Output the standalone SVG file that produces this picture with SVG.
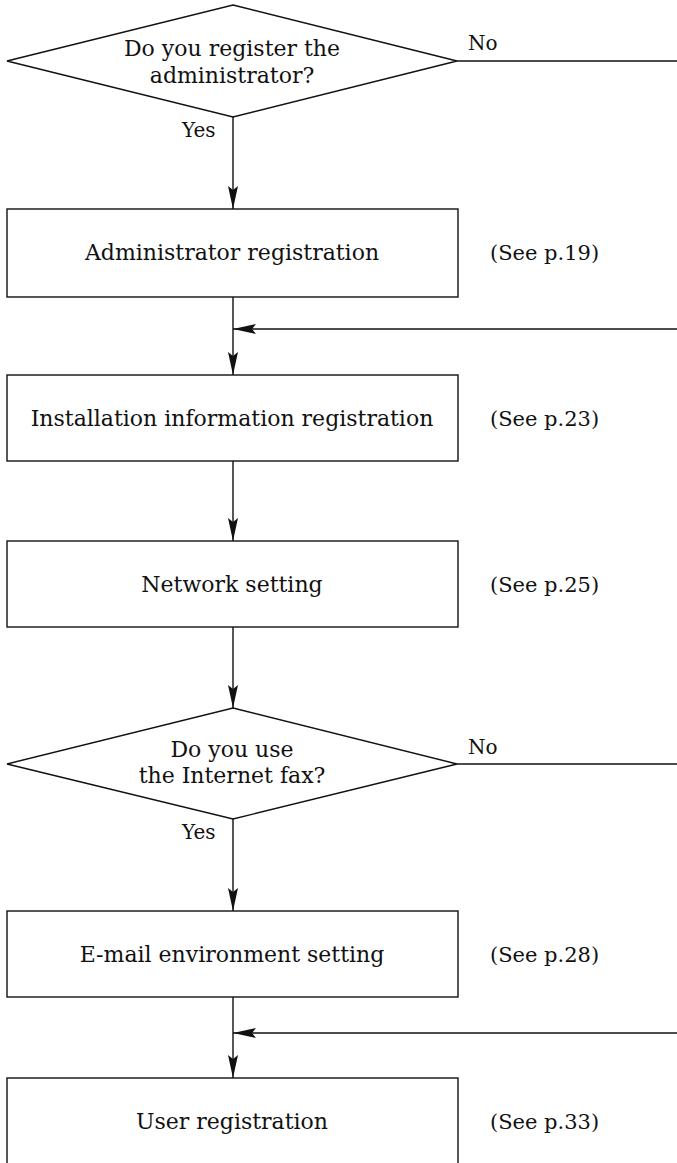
<svg xmlns="http://www.w3.org/2000/svg" width="677" height="1163" viewBox="0 0 677 1163">
<style>
.shape{fill:#fff;stroke:#111;stroke-width:1.4}
.lbl{font-family:"DejaVu Serif","Liberation Serif",serif;font-size:22px;fill:#111;text-anchor:middle}
.ref{font-family:"DejaVu Serif","Liberation Serif",serif;font-size:21px;fill:#111}
.yn{font-family:"DejaVu Serif","Liberation Serif",serif;font-size:20px;fill:#111}
.conn{fill:none;stroke:#111;stroke-width:1.4}
</style>
<defs>
<marker id="ah" markerUnits="userSpaceOnUse" markerWidth="26" markerHeight="12" refX="24" refY="6" orient="auto">
<path d="M24,6 L1,1 L5,6 L1,11 Z" fill="#111"/>
</marker>
</defs>
<rect width="677" height="1163" fill="#fff"/>
<g id="connectors">
<line class="conn" x1="233" y1="117" x2="233" y2="209" marker-end="url(#ah)"/>
<line class="conn" x1="457" y1="61" x2="677" y2="61"/>
<line class="conn" x1="233" y1="297" x2="233" y2="375" marker-end="url(#ah)"/>
<line class="conn" x1="677" y1="329" x2="233" y2="329" marker-end="url(#ah)"/>
<line class="conn" x1="233" y1="461" x2="233" y2="541" marker-end="url(#ah)"/>
<line class="conn" x1="233" y1="627" x2="233" y2="708" marker-end="url(#ah)"/>
<line class="conn" x1="457" y1="764" x2="677" y2="764"/>
<line class="conn" x1="233" y1="819" x2="233" y2="911" marker-end="url(#ah)"/>
<line class="conn" x1="233" y1="997" x2="233" y2="1078" marker-end="url(#ah)"/>
<line class="conn" x1="677" y1="1033" x2="233" y2="1033" marker-end="url(#ah)"/>
<text class="yn" x="468" y="50">No</text>
<text class="yn" x="182" y="137">Yes</text>
<text class="yn" x="468" y="754">No</text>
<text class="yn" x="182" y="839">Yes</text>
</g>
<g id="q1">
<polygon class="shape" points="233,5 457,61 233,117 7,61"/>
<text class="lbl" x="232" y="56">Do you register the</text>
<text class="lbl" x="232" y="83">administrator?</text>
</g>
<g id="admin">
<rect class="shape" x="7" y="209" width="451" height="88"/>
<text class="lbl" x="232" y="260">Administrator registration</text>
<text class="ref" x="490" y="260">(See p.19)</text>
</g>
<g id="install">
<rect class="shape" x="7" y="375" width="451" height="86"/>
<text class="lbl" x="232" y="426">Installation information registration</text>
<text class="ref" x="490" y="426">(See p.23)</text>
</g>
<g id="network">
<rect class="shape" x="7" y="541" width="451" height="86"/>
<text class="lbl" x="232" y="592">Network setting</text>
<text class="ref" x="490" y="592">(See p.25)</text>
</g>
<g id="q2">
<polygon class="shape" points="233,708 457,764 233,819 7,764"/>
<text class="lbl" x="232" y="757">Do you use</text>
<text class="lbl" x="232" y="783">the Internet fax?</text>
</g>
<g id="email">
<rect class="shape" x="7" y="911" width="451" height="86"/>
<text class="lbl" x="232" y="962">E-mail environment setting</text>
<text class="ref" x="490" y="962">(See p.28)</text>
</g>
<g id="user">
<rect class="shape" x="7" y="1078" width="451" height="100"/>
<text class="lbl" x="232" y="1129">User registration</text>
<text class="ref" x="490" y="1129">(See p.33)</text>
</g>
</svg>
